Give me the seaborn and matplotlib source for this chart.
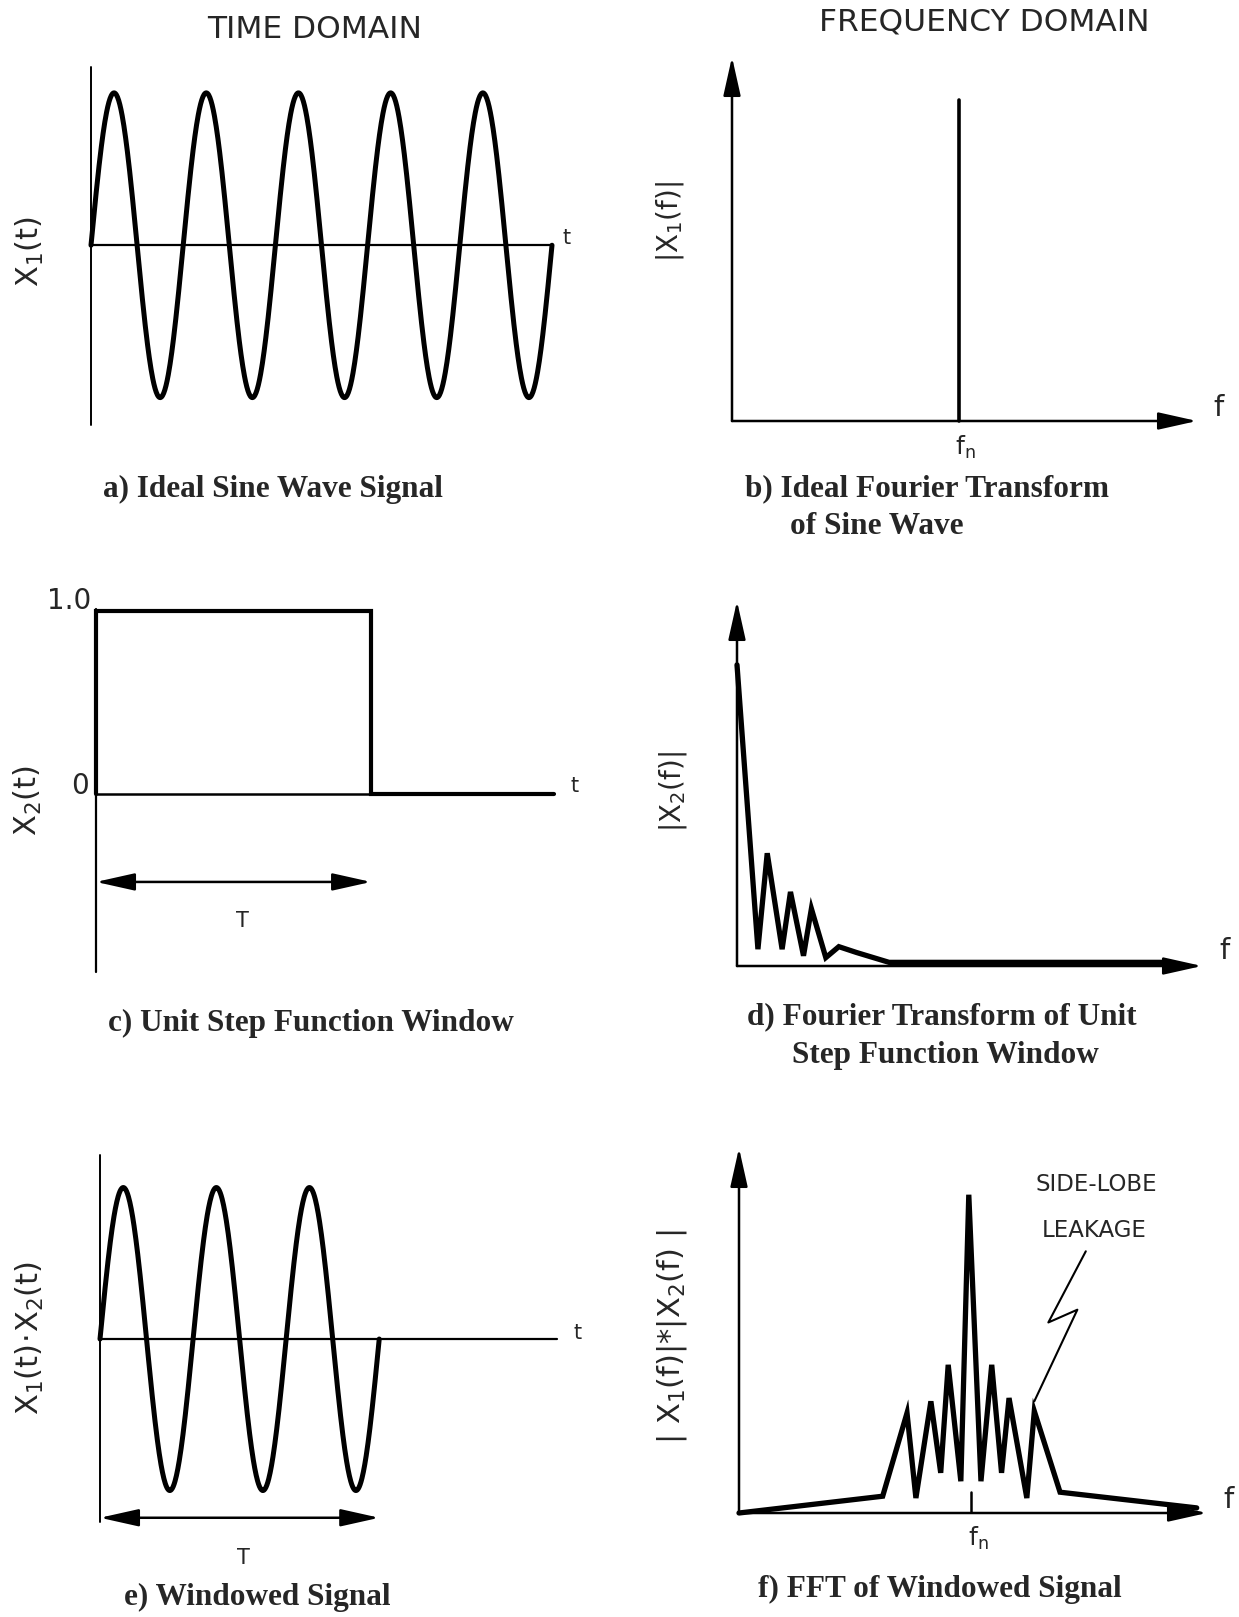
"""Spectral leakage figure: windowed sine wave in time and frequency domain."""

import matplotlib
matplotlib.use("Agg")
import matplotlib.pyplot as plt
import numpy as np
import pandas as pd
import seaborn as sns

sns.set_theme(style="white")
plt.rcParams["font.family"] = ["DejaVu Sans"]
plt.rcParams["mathtext.fontset"] = "dejavusans"

W, H = 1239, 1617

# a) ideal sine wave (cycles shown, unit amplitude)
sine_cycles_a = 5
# b) ideal transform: one line at f_n
spike_f = [48.8, 48.8]
spike_mag = [0.0, 88.2]
# c) unit step window, T = 1
step_t = [0.0, 0.0, 1.0, 1.0, 1.665]
step_x = [0.0, 1.0, 1.0, 0.0, 0.0]
# d) transform of the window (% of axis)
win_f = [0.0, 4.5, 6.5, 9.7, 11.5, 14.3, 16.0, 19.1, 21.9, 25.7, 32.7, 92.0]
win_mag = [82.5, 4.6, 30.9, 4.6, 20.3, 2.8, 15.7, 2.3, 5.3, 3.7, 1.0, 1.0]
# e) windowed signal: cycles inside T
sine_cycles_e = 3
# f) FFT of the windowed signal
fft_f = [0.0, 30.7, 35.9, 37.8, 41.0, 43.1, 44.7, 47.4, 49.1, 51.7, 54.0,
         56.1, 57.7, 61.5, 63.1, 68.6, 97.8]
fft_mag = [0.0, 4.6, 27.4, 4.1, 30.6, 11.0, 40.6, 8.7, 87.2, 8.7, 40.6,
           11.0, 31.5, 4.1, 27.9, 5.7, 1.4]
fn_f = 49.6
fn_tick = [0.0, 5.7]
leak_f = [74.1, 66.1, 72.3, 63.1]
leak_y = [71.7, 52.2, 55.7, 30.6]

SANS = "DejaVu Sans"
SERIF = "Liberation Serif"


def panel(fig, left, top, right, bottom, xlim, ylim):
    ax = fig.add_axes([left / W, 1 - bottom / H, (right - left) / W, (bottom - top) / H])
    ax.set_xlim(*xlim)
    ax.set_ylim(*ylim)
    ax.set_axis_off()
    return ax


def arrow(ax, start, end, style="-|>", lw=1.8):
    ax.annotate("", xy=end, xytext=start, annotation_clip=False,
                arrowprops=dict(arrowstyle=f"{style},head_length=1.7,head_width=0.38",
                                lw=lw, color="black", shrinkA=0, shrinkB=0,
                                mutation_scale=14))


def line(ax, x, y, lw):
    sns.lineplot(x=x, y=y, ax=ax, color="black", linewidth=lw,
                 sort=False, estimator=None, legend=False)
    for ln in ax.lines:
        ln.set_clip_on(False)
        ln.set_solid_capstyle("round")
        ln.set_solid_joinstyle("miter")


def ptext(fig, x, y, s, size, family=SANS, ha="center", rot=0, **kw):
    fig.text(x / W, 1 - y / H, s, ha=ha, va="center", fontsize=size,
             family=family, rotation=rot, **kw)


def caption(fig, x, y, s):
    ptext(fig, x, y, s, 22.5, family=SERIF, ha="left", weight="bold")


fig = plt.figure(figsize=(W / 100, H / 100), dpi=100)

# ---- a) ideal sine wave ----
ax = panel(fig, 91, 67, 552, 425, (0, 5), (-1.18, 1.17))
ax.axvline(0, color="black", lw=1.4)
ax.axhline(0, color="black", lw=1.6)
t = np.linspace(0, sine_cycles_a, 800)
line(ax, t, np.sin(2 * np.pi * t), 3.6)
ptext(fig, 567, 238, "t", 15)
ptext(fig, 30, 252, r"$\mathregular{X_1(t)}$", 22, rot=90)
ptext(fig, 315, 30, "TIME DOMAIN", 22.5)
caption(fig, 103, 489, "a) Ideal Sine Wave Signal")

# ---- b) ideal Fourier transform ----
ax = panel(fig, 732, 57, 1197, 421, (0, 100), (0, 100))
arrow(ax, (0, 0), (0, 100))
arrow(ax, (0, 0), (100, 0))
line(ax, spike_f, spike_mag, 2.6)
ptext(fig, 1219, 408, "f", 21)
ptext(fig, 965, 447, r"$\mathregular{f_n}$", 18)
ptext(fig, 670, 222, r"$\mathregular{|X_1(f)|}$", 20, rot=90)
ptext(fig, 984, 22, "FREQUENCY DOMAIN", 22.5)
caption(fig, 745, 489, "b) Ideal Fourier Transform")
caption(fig, 790, 526, "of Sine Wave")

# ---- c) unit step window ----
ax = panel(fig, 96, 609, 554, 972, (0, 1.665), (-0.973, 1.01))
ax.axvline(0, color="black", lw=1.6)
ax.plot([0, 1], [0, 0], color="black", lw=1.8)
line(ax, step_t, step_x, 3.0)
arrow(ax, (0, -0.481), (1.0, -0.481), style="<|-|>")
ptext(fig, 575, 786, "t", 15)
ptext(fig, 91, 601, "1.0", 20, ha="right")
ptext(fig, 80, 786, "0", 20)
ptext(fig, 242, 921, "T", 15)
ptext(fig, 28, 801, r"$\mathregular{X_2(t)}$", 22, rot=90)
caption(fig, 108, 1023, "c) Unit Step Function Window")

# ---- d) transform of window ----
ax = panel(fig, 737, 601, 1202, 966, (0, 100), (0, 100))
arrow(ax, (0, 0), (0, 100))
arrow(ax, (0, 0), (100, 0))
line(ax, win_f, win_mag, 3.8)
ptext(fig, 1224, 951, "f", 21)
ptext(fig, 673, 792, r"$\mathregular{|X_2(f)|}$", 20, rot=90)
caption(fig, 747, 1017, "d) Fourier Transform of Unit")
caption(fig, 792, 1055, "Step Function Window")

# ---- e) windowed signal ----
ax = panel(fig, 100, 1155, 557, 1522, (0, 4.91), (-1.208, 1.215))
ax.axvline(0, color="black", lw=1.4)
ax.axhline(0, color="black", lw=1.6)
t = np.linspace(0, sine_cycles_e, 600)
line(ax, t, np.sin(2 * np.pi * t), 3.6)
arrow(ax, (0, -1.18), (3.0, -1.18), style="<|-|>")
ptext(fig, 578, 1333, "t", 15)
ptext(fig, 243, 1558, "T", 15)
ptext(fig, 30, 1338, r"$\mathregular{X_1(t)\!\cdot\!X_2(t)}$", 22, rot=90)
caption(fig, 124, 1597, "e) Windowed Signal")

# ---- f) FFT of windowed signal ----
ax = panel(fig, 739, 1148, 1207, 1513, (0, 100), (0, 100))
arrow(ax, (0, 0), (0, 100))
arrow(ax, (0, 0), (100, 0))
line(ax, fft_f, fft_mag, 3.8)
ax.plot([fn_f, fn_f], fn_tick, color="black", lw=1.8)
ax.plot(leak_f, leak_y, color="black", lw=1.5)
ptext(fig, 1228, 1500, "f", 21)
ptext(fig, 978, 1538, r"$\mathregular{f_n}$", 18)
ptext(fig, 1096, 1184, "SIDE-LOBE", 16.5)
ptext(fig, 1094, 1230, "LEAKAGE", 16.5)
ptext(fig, 672, 1337, r"$\mathregular{|\ X_1(f)|{*}|X_2(f)\ |}$", 22, rot=90)
caption(fig, 758, 1589, "f) FFT of Windowed Signal")

fig.savefig("out.png", dpi=100, facecolor="white")
